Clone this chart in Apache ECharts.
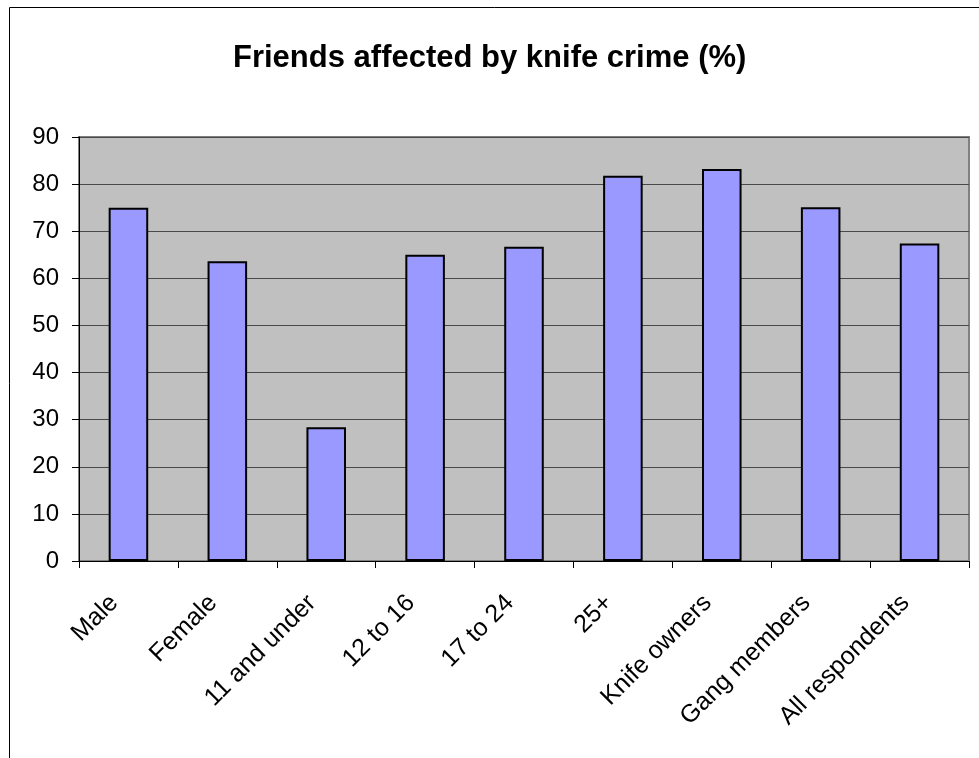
<!DOCTYPE html>
<html><head><meta charset="utf-8">
<script src="https://cdn.jsdelivr.net/npm/echarts@6/dist/echarts.min.js"></script>
<style>html,body{margin:0;padding:0;background:#fff}#c{width:979px;height:758px}</style>
</head><body><div id="c"></div>
<script>
const titleText = 'Friends affected by knife crime (%)';
const categories = ['Male','Female','11 and under','12 to 16','17 to 24','25+','Knife owners','Gang members','All respondents'];
const values = [75, 63.6, 28.4, 65, 66.7, 81.8, 83.2, 75.1, 67.4];
const yTicks = {min: 0, max: 90, interval: 10};

const chart = echarts.init(document.getElementById('c'), null, {renderer: 'canvas'});
const font = '"Liberation Sans", Arial, sans-serif';
chart.setOption({
  animation: false,
  backgroundColor: '#fff',
  graphic: [{type: 'rect', left: 7, top: 5, shape: {width: 1000, height: 800}, style: {fill: 'none', stroke: '#000', lineWidth: 1}, z: 100}],
  title: {text: titleText, left: 233, top: 43, padding: 0, textStyle: {fontFamily: font, fontSize: 31, fontWeight: 'bold', color: '#000'}},
  grid: {left: 79, top: 137, right: 10, bottom: 197, show: true, backgroundColor: '#C0C0C0', borderColor: '#808080', borderWidth: 2},
  xAxis: {
    type: 'category', data: categories,
    axisLine: {lineStyle: {color: '#000', width: 1}},
    axisTick: {show: true, length: 7, lineStyle: {color: '#000'}},
    axisLabel: {rotate: 45, interval: 0, margin: 24, padding: [0, 20, 0, 0], fontFamily: font, fontSize: 25, color: '#000'}
  },
  yAxis: {
    type: 'value', min: yTicks.min, max: yTicks.max, interval: yTicks.interval,
    axisLine: {show: true, lineStyle: {color: '#000', width: 1}},
    axisTick: {show: true, length: 7, lineStyle: {color: '#000'}},
    splitLine: {lineStyle: {color: '#4a4a4a', width: 1}},
    axisLabel: {margin: 20, fontFamily: font, fontSize: 24, color: '#000'}
  },
  series: [{type: 'bar', data: values, barWidth: '40%', itemStyle: {color: '#9999FF', borderColor: '#000', borderWidth: 2}}]
});
</script></body></html>
